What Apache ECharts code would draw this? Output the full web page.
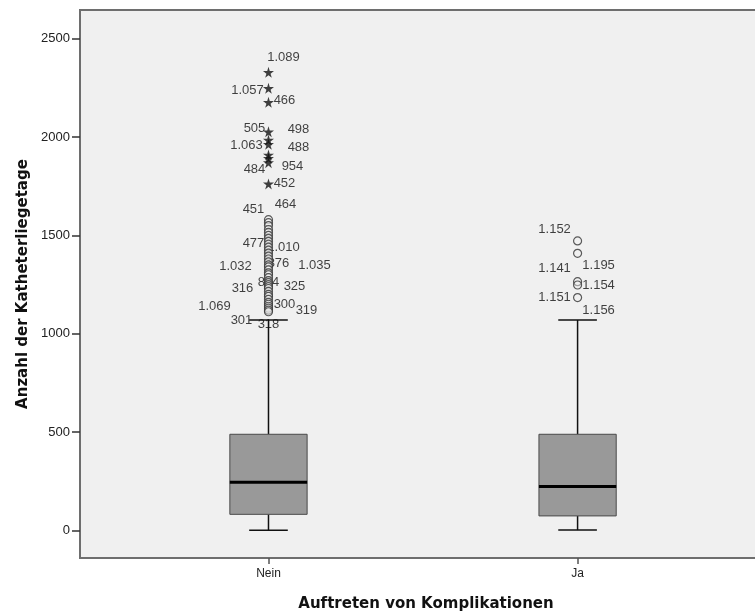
<!DOCTYPE html>
<html>
<head>
    <meta charset="utf-8"/>
    <title>Katheterliegetage</title>
    <script src="https://cdn.jsdelivr.net/npm/echarts@6/dist/echarts.min.js"></script>
    <style>
        html, body { margin: 0; padding: 0; background: #fff; }
        #main { width: 755px; height: 615px; }
    </style>
</head>
<body>
<div id="main"></div>
<script>
    // Kategorien und Achsenticks
    var categories = ['Nein', 'Ja'];
    var yTicks = [0, 500, 1000, 1500, 2000, 2500];

    // Box: [min, Q1, Median, Q3, max]
    var boxNein = [1, 82, 245, 489, 1070];
    var boxJa = [2, 74, 223, 489, 1070];

    // Ausreisser (Kreise) und Extremwerte (Sterne)
    var outNein = [1580, 1565, 1550, 1530, 1515, 1500, 1485, 1470, 1455, 1440, 1425, 1410,
        1395, 1380, 1365, 1350, 1340, 1325, 1310, 1300, 1285, 1270, 1260, 1250, 1240, 1230,
        1215, 1200, 1190, 1175, 1160, 1150, 1140, 1130, 1120, 1112];
    var extNein = [2329, 2248, 2177, 2027, 1985, 1963, 1909, 1892, 1870, 1762];
    var outJa = [1472, 1409, 1265, 1248, 1184];

    // Fallbeschriftungen: Wert des Punktes + Fallnummer
    var lblNeinVal = [2329, 2248, 2177, 2027, 2027, 1963, 1985, 1870, 1892, 1762,
        1580, 1565, 1455, 1440, 1340, 1350, 1340, 1250, 1230, 1240, 1140, 1150, 1120, 1112, 1112];
    var lblNeinId = ['1.089', '1.057', '466', '505', '498', '1.063', '488', '484', '954', '452',
        '451', '464', '477', '1.010', '1.032', '876', '1.035', '804', '316', '325', '1.069', '300', '319', '301', '318'];
    var lblJaVal = [1472, 1265, 1265, 1248, 1184, 1184];
    var lblJaId = ['1.152', '1.141', '1.195', '1.154', '1.151', '1.156'];

    // Lage der Beschriftungen (px relativ zum Punkt)
    var lblNeinOff = [[15, -15], [-21, 2], [16, -2], [-14, -3], [30, -2], [-22, 1], [30, 7], [-14, 7], [24, 8], [16, 0],
        [-15, -10], [17, -18], [-15, -1], [15, 0], [-33, 0], [10, -1], [46, -1], [0, -2], [-26, 0], [26, 0],
        [-54, 0], [16, 0], [38, 0], [-27, 9], [0, 13]];
    var lblJaOff = [[-23, -12], [-23, -13], [21, -16], [21, 0], [-23, 0], [21, 13]];

    var FONT = 'Liberation Sans, Arial, sans-serif';
    var TITLE_FONT = 'DejaVu Sans, Verdana, sans-serif';
    var boxWidth = 0.25;
    var starPath = 'path://M50 0 L61 35 L98 35 L68 57 L79 91 L50 70 L21 91 L32 57 L2 35 L39 35 Z';

    function points(x, arr) {
        return arr.map(function (v) { return [x, v]; });
    }

    function labelData(x, vals, ids, offs) {
        return vals.map(function (v, i) {
            return {
                value: [x, v],
                label: {offset: offs[i], formatter: ids[i]}
            };
        });
    }

    // Box, Median, Whisker und Endstriche ueber die Achsen zeichnen
    function renderBox(params, api) {
        var x = api.value(0);
        var lo = api.coord([x, api.value(1)]);
        var q1 = api.coord([x, api.value(2)]);
        var md = api.coord([x, api.value(3)]);
        var q3 = api.coord([x, api.value(4)]);
        var hi = api.coord([x, api.value(5)]);
        var bw = api.size([boxWidth, 0])[0];
        var cw = bw / 2;
        var cx = lo[0];
        var line = {stroke: '#111', lineWidth: 1.5};
        return {
            type: 'group',
            children: [
                {type: 'line', shape: {x1: cx, y1: q3[1], x2: cx, y2: hi[1]}, style: line},
                {type: 'line', shape: {x1: cx, y1: q1[1], x2: cx, y2: lo[1]}, style: line},
                {type: 'line', shape: {x1: cx - cw / 2, y1: hi[1], x2: cx + cw / 2, y2: hi[1]}, style: line},
                {type: 'line', shape: {x1: cx - cw / 2, y1: lo[1], x2: cx + cw / 2, y2: lo[1]}, style: line},
                {
                    type: 'rect',
                    shape: {x: cx - bw / 2, y: q3[1], width: bw, height: q1[1] - q3[1]},
                    style: {fill: '#999999', stroke: '#4a4a4a', lineWidth: 1}
                },
                {type: 'line', shape: {x1: cx - bw / 2, y1: md[1], x2: cx + bw / 2, y2: md[1]},
                    style: {stroke: '#000', lineWidth: 3}}
            ]
        };
    }

    var chart = echarts.init(document.getElementById('main'), null, {renderer: 'canvas'});
    var option = {
        animation: false,
        backgroundColor: '#ffffff',
        grid: {
            left: 80, top: 10, width: 692, bottom: 57,
            outerBoundsMode: 'none',
            containLabel: false,
            show: true,
            backgroundColor: '#f0f0f0',
            borderColor: '#6e6e6e',
            borderWidth: 2
        },
        xAxis: {
            type: 'value',
            min: -0.6098,
            max: 1.629,
            name: 'Auftreten von Komplikationen',
            nameLocation: 'middle',
            nameGap: 39,
            nameTextStyle: {fontFamily: TITLE_FONT, fontWeight: 'bold', fontSize: 15, color: '#111'},
            axisLine: {show: true, onZero: false, lineStyle: {color: '#6e6e6e', width: 2}},
            axisTick: {show: true, customValues: [0, 1], length: 6, lineStyle: {color: '#555', width: 1.5}},
            axisLabel: {
                customValues: [0, 1],
                margin: 10,
                fontFamily: FONT, fontSize: 12, color: '#222',
                formatter: function (v) { return categories[Math.round(v)]; }
            },
            splitLine: {show: false}
        },
        yAxis: {
            type: 'value',
            min: -140,
            max: 2646,
            name: 'Anzahl der Katheterliegetage',
            nameLocation: 'middle',
            nameGap: 49,
            nameTextStyle: {fontFamily: TITLE_FONT, fontWeight: 'bold', fontSize: 15, color: '#111'},
            axisLine: {show: true, onZero: false, lineStyle: {color: '#6e6e6e', width: 2}},
            axisTick: {show: true, customValues: yTicks, length: 8, lineStyle: {color: '#333', width: 1.5}},
            axisLabel: {
                customValues: yTicks,
                margin: 10,
                fontFamily: FONT, fontSize: 13, color: '#222',
                formatter: function (v) { return String(v); }
            },
            splitLine: {show: false}
        },
        series: [
            {
                type: 'custom',
                renderItem: renderBox,
                encode: {x: 0, y: [1, 2, 3, 4, 5]},
                z: 1,
                data: [[0].concat(boxNein), [1].concat(boxJa)]
            },
            {
                type: 'scatter',
                symbolSize: 0,
                z: 2,
                silent: true,
                label: {
                    show: true, position: 'inside',
                    fontFamily: FONT, fontSize: 13, color: '#111'
                },
                data: labelData(0, lblNeinVal, lblNeinId, lblNeinOff)
                    .concat(labelData(1, lblJaVal, lblJaId, lblJaOff))
            },
            {
                type: 'scatter',
                symbol: 'circle',
                symbolSize: 8,
                z: 3,
                itemStyle: {color: 'rgba(240,240,240,0.6)', borderColor: '#333', borderWidth: 1.2},
                data: points(0, outNein).concat(points(1, outJa))
            },
            {
                type: 'scatter',
                symbol: starPath,
                symbolSize: 11,
                z: 3,
                itemStyle: {color: '#111'},
                data: points(0, extNein)
            }
        ]
    };
    chart.setOption(option);
</script>
</body>
</html>
